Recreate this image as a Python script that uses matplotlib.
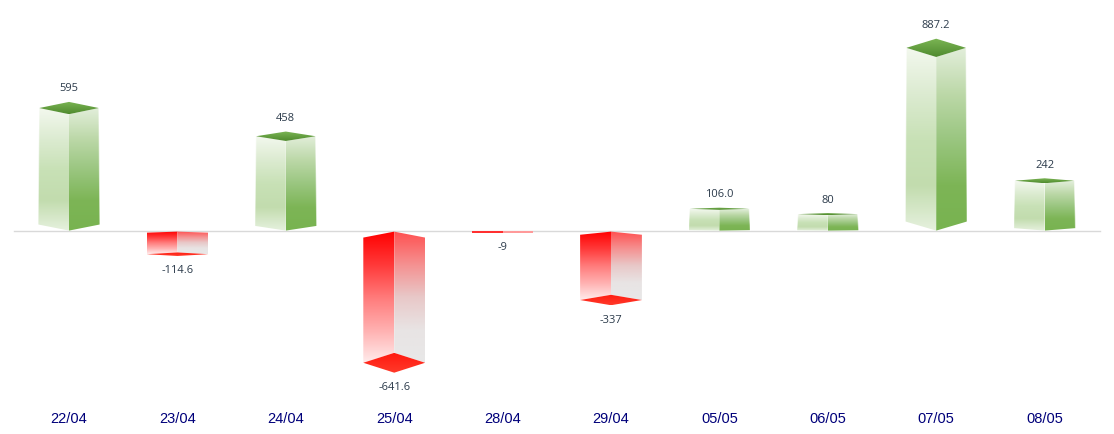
import matplotlib
matplotlib.use("Agg")
import matplotlib.pyplot as plt
import numpy as np
from matplotlib.colors import LinearSegmentedColormap
from matplotlib.patches import Polygon

dates = ["22/04", "23/04", "24/04", "25/04", "28/04", "29/04", "05/05", "06/05", "07/05", "08/05"]
values = [595, -114.6, 458, -641.6, -9, -337, 106.0, 80, 887.2, 242]
labels = ["595", "-114.6", "458", "-641.6", "-9", "-337", "106.0", "80", "887.2", "242"]

W, H = 1114, 435
BASE_PX = 231.6    # pixel row of the zero line
AXIS_PX = 405      # pixel row of the axes bottom
PX_PER_UNIT = 0.206
X0_PX, STEP_PX = 69, 108.4
HALF = 0.285

GREEN_LEFT = ["#f3f8ee", "#dcebd1", "#c8e1b6", "#c2dcae", "#e6f1de"]
GREEN_RIGHT = ["#e2eeda", "#bcd8a8", "#9ac680", "#7db556", "#78b350"]
GREEN_TOP = ["#7cb655", "#4f8a2e"]
RED_LEFT = ["#ff0000", "#ff3838", "#ff7a7a", "#ffb0b0", "#ffecec"]
RED_RIGHT = ["#ff5050", "#f59090", "#e8c8c8", "#e8e4e4", "#e8e8e8"]
RED_BOTTOM = ["#ff1a10", "#ff3a2a"]

plt.rcParams["font.family"] = ["Open Sans", "DejaVu Sans"]
fig = plt.figure(figsize=(W / 100, H / 100), dpi=100)
ax = fig.add_axes([0, 1 - AXIS_PX / H, 1, AXIS_PX / H])


def face(points, colors):
    # vertical gradient clipped to a polygon
    pts = np.array(points)
    cmap = LinearSegmentedColormap.from_list("f", colors)
    grad = np.linspace(0, 1, 256).reshape(-1, 1)
    im = ax.imshow(grad, cmap=cmap, aspect="auto", origin="upper", interpolation="bilinear",
                   extent=(pts[:, 0].min(), pts[:, 0].max(), pts[:, 1].min(), pts[:, 1].max()), zorder=2)
    patch = Polygon(pts, closed=True, transform=ax.transData, fc="none", ec="none")
    ax.add_patch(patch)
    im.set_clip_path(patch)


for i, v in enumerate(values):
    l, r = i - HALF, i + HALF
    if v >= 0:
        d = max(0.05 * v, 5)
        rise = d * min(v / 242, 1)
        face([(l, rise), (i, 0), (i, v - d), (l + 0.01, v)], GREEN_LEFT)
        face([(i, 0), (r, rise), (r - 0.01, v), (i, v - d)], GREEN_RIGHT)
        # soft white rim on the outer edges only
        ax.plot([l, l + 0.01], [rise, v], color="white", lw=0.8, alpha=0.5, zorder=3)
        ax.plot([r, r - 0.01], [rise, v], color="white", lw=0.8, alpha=0.5, zorder=3)
        face([(l + 0.01, v), (i, v + d), (r - 0.01, v), (i, v - d)], GREEN_TOP)
        ax.annotate(labels[i], (i, v + d), xytext=(0, 14), textcoords="offset pixels",
                    ha="center", va="center", fontsize=8, color="#2b3a4a", zorder=4)
    elif v > -20:
        # nearly flat bar, just a two-tone strip
        d = 0.075 * -v
        face([(l, -1), (i, -1), (i, v - 1), (l, v - 1)], ["#ff3030", "#ff3030"])
        face([(i, -1), (r, -1), (r, v - 1), (i, v - 1)], ["#ff9a9a", "#ff9a9a"])
        ax.annotate(labels[i], (i, v - d), xytext=(0, -14), textcoords="offset pixels",
                    ha="center", va="center", fontsize=8, color="#2b3a4a", zorder=4)
    else:
        top = 0.045 * -v
        d = 0.075 * -v
        y0 = -5
        face([(l, y0 - top), (i, y0), (i, v + d), (l, v)], RED_LEFT)
        face([(i, y0), (r, y0 - top), (r, v), (i, v + d)], RED_RIGHT)
        face([(l, v), (i, v + d), (r, v), (i, v - d)], RED_BOTTOM)
        ax.annotate(labels[i], (i, v - d), xytext=(0, -14), textcoords="offset pixels",
                    ha="center", va="center", fontsize=8, color="#2b3a4a", zorder=4)

ax.axhline(0, xmin=14 / W, xmax=1100 / W, color="#d9d9d9", lw=1, zorder=1)

ax.set_xlim(-X0_PX / STEP_PX, (W - X0_PX) / STEP_PX)
ax.set_ylim(-(AXIS_PX - BASE_PX) / PX_PER_UNIT, BASE_PX / PX_PER_UNIT)
ax.set_xticks(range(len(dates)))
ax.set_xticklabels(dates, fontsize=10.5, color="#00007a", family=["Liberation Sans"])
ax.tick_params(axis="x", length=0, pad=5)
ax.set_yticks([])
for s in ax.spines.values():
    s.set_visible(False)

fig.savefig("out.png", dpi=100, facecolor="white")
